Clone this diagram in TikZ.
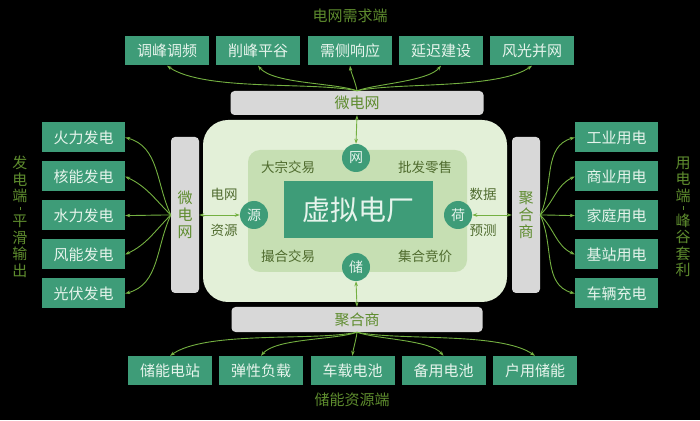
\documentclass[tikz,border=0pt]{standalone}
\usepackage{fontspec}
\setmainfont{Noto Sans CJK SC}
\usetikzlibrary{arrows.meta}
\definecolor{boxgreen}{HTML}{3E9C78}
\definecolor{boxtext}{HTML}{E6F4EC}
\definecolor{bargray}{HTML}{D8D8D8}
\definecolor{labelgreen}{HTML}{5E8C2E}
\definecolor{linkgreen}{HTML}{74B041}
\definecolor{panelouter}{HTML}{E3F0D8}
\definecolor{panelinner}{HTML}{C6DFB3}
\definecolor{innertext}{HTML}{4F6B2E}
\newcommand{\vtick}{\rule[4pt]{0.7pt}{3.5pt}}
\tikzset{
  itembox/.style={fill=boxgreen, text=boxtext, minimum width=84pt, minimum height=29pt,
    inner sep=0pt, font=\fontsize{15}{18}\selectfont},
  graybar/.style={fill=bargray, rounded corners=4pt, text=labelgreen, inner sep=0pt,
    align=center, font=\fontsize{15}{17}\selectfont},
  hub/.style={circle, fill=boxgreen, text=boxtext, minimum size=28pt, inner sep=0pt,
    font=\fontsize{14}{16}\selectfont},
  sidelabel/.style={text=labelgreen, inner sep=0pt, align=center,
    font=\fontsize{15}{16.5}\selectfont},
  inlabel/.style={text=innertext, inner sep=0pt, font=\fontsize{13.5}{16}\selectfont},
  link/.style={draw=linkgreen, line width=0.9pt, -{Stealth[length=5pt,width=3.5pt]}},
  duallink/.style={draw=linkgreen, line width=0.9pt,
    {Stealth[length=5pt,width=3.5pt]}-{Stealth[length=5pt,width=3.5pt]}}
}
\begin{document}
\begin{tikzpicture}[x=1pt,y=1pt]
\fill[black] (0,0) rectangle (700,420);
\useasboundingbox (0,0) rectangle (700,420);
% central panel
\node[fill=panelouter, rounded corners=25pt, minimum width=304pt, minimum height=182pt] (vpp) at (355,209) {};
\node[fill=panelinner, rounded corners=12pt, minimum width=219pt, minimum height=122pt] (core) at (357.5,209) {};
\node[fill=boxgreen, text=boxtext, minimum width=149pt, minimum height=57pt, inner sep=0pt,
  font=\fontsize{28}{32}\selectfont] (ctr) at (358.5,210.5) {虚拟电厂};
\node[hub] (hubN) at (356,262) {网};
\node[hub] (hubS) at (356,153) {储};
\node[hub] (hubW) at (254,205) {源};
\node[hub] (hubE) at (458,205) {荷};
\node[inlabel] (lt) at (288,253) {大宗交易};
\node[inlabel] (rt) at (425,253) {批发零售};
\node[inlabel] (lb) at (288,164) {撮合交易};
\node[inlabel] (rb) at (425,164) {集合竞价};
\node[inlabel] (wa) at (224,226) {电网};
\node[inlabel] (wb) at (224,190) {资源};
\node[inlabel] (ea) at (483,226) {数据};
\node[inlabel] (eb) at (483,190) {预测};
% bars
\node[graybar, minimum width=253pt, minimum height=24pt] (topbar) at (357,317) {微电网};
\node[graybar, minimum width=251pt, minimum height=25pt] (botbar) at (357,100.5) {聚合商};
\node[graybar, minimum width=28pt, minimum height=156pt] (leftbar) at (185,205) {微\\电\\网};
\node[graybar, minimum width=28pt, minimum height=156pt] (rightbar) at (526,205) {聚\\合\\商};
\draw[duallink] (topbar.south) -- (hubN.north);
\draw[duallink] (botbar.north) -- (hubS.south);
\draw[duallink] (leftbar.east) -- (hubW.west);
\draw[duallink] (rightbar.west) -- (hubE.east);
% outer boxes
\foreach \x/\t [count=\i] in {167/调峰调频,258/削峰平谷,350/需侧响应,441/延迟建设,532/风光并网}
  \node[itembox] (top\i) at (\x,369) {\t};
\foreach \x/\t [count=\i] in {170/储能电站,261/弹性负载,352.5/车载电池,443.5/备用电池,535/户用储能}
  \node[itembox] (bot\i) at (\x,49.5) {\t};
\foreach \y/\t [count=\i] in {282.5/火力发电,243.5/核能发电,204.5/水力发电,165.5/风能发电,126.5/光伏发电}
  \node[itembox, minimum width=83pt, minimum height=30pt] (left\i) at (83.5,\y) {\t};
\foreach \y/\t [count=\i] in {282.5/工业用电,243.5/商业用电,204.5/家庭用电,165.5/基站用电,126.5/车辆充电}
  \node[itembox, minimum width=83pt, minimum height=30pt] (right\i) at (616.5,\y) {\t};
% fans
\foreach \i/\o/\n in {1/168/-35,2/160/-50,3/97/-82,4/20/-130,5/12/-145}
  \draw[link] (topbar.north) to[out=\o,in=\n,looseness=0.6] (top\i.south);
\foreach \i/\o/\n in {1/192/35,2/200/50,3/-95/85,4/-20/130,5/-12/145}
  \draw[link] (botbar.south) to[out=\o,in=\n,looseness=0.6] (bot\i.north);
\foreach \i/\o/\n in {1/115/-15,2/135/-25,3/180/0,4/-135/25,5/-115/15}
  \draw[link] (leftbar.west) to[out=\o,in=\n] (left\i.east);
\foreach \i/\o/\n in {1/65/195,2/45/205,3/0/180,4/-45/155,5/-65/165}
  \draw[link] (rightbar.east) to[out=\o,in=\n] (right\i.west);
% side titles
\node[sidelabel] (ttop) at (350,404) {电网需求端};
\node[sidelabel] (tbot) at (352,20) {储能资源端};
\node[sidelabel] (tleft) at (20,203) {发\\电\\端\\[-4pt]\vtick\\[-4pt]平\\滑\\输\\出};
\node[sidelabel] (tright) at (683,203) {用\\电\\端\\[-4pt]\vtick\\[-4pt]峰\\谷\\套\\利};
\end{tikzpicture}
\end{document}
